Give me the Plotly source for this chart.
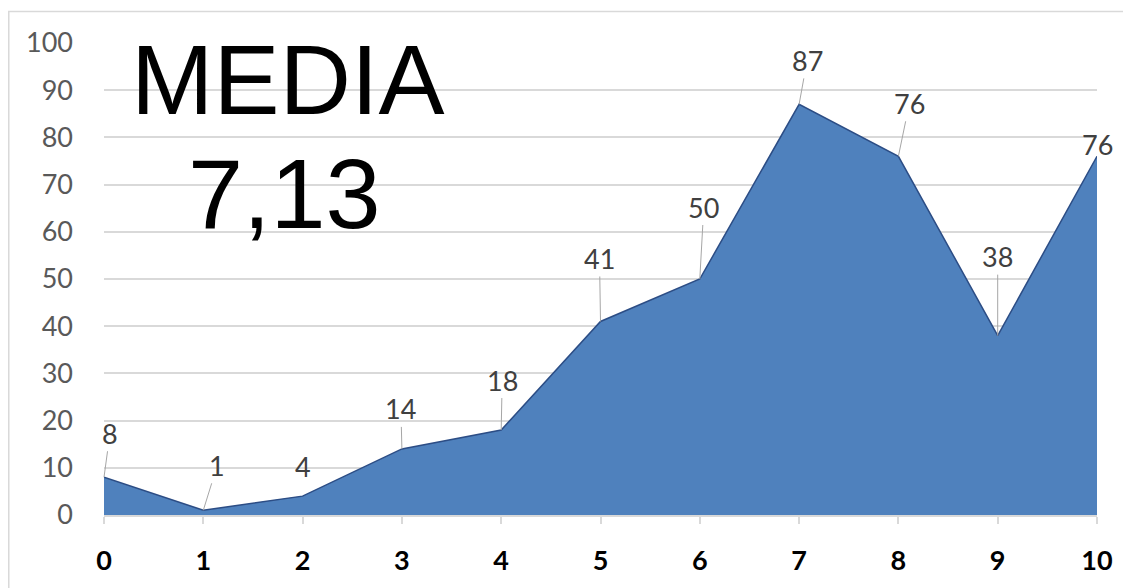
import plotly.graph_objects as go

# Datos del gráfico
x_vals = [0, 1, 2, 3, 4, 5, 6, 7, 8, 9, 10]
y_vals = [8, 1, 4, 14, 18, 41, 50, 87, 76, 38, 76]
media_titulo = "MEDIA"
media_valor = "7,13"

# Desplazamiento de las etiquetas (px) y si llevan línea guía
LABEL_OFFSETS = [(6, -44), (14, -45), (0, -30), (-1, -40), (1, -50), (-1, -63),
                 (4, -72), (8, -44), (11, -53), (0, -79), (0, -12)]
LABEL_LEADER = [True, True, False, True, True, True, True, True, True, True, False]

GRID = "#d9d9d9"
FONT_LBL = "Lato, 'Open Sans', sans-serif"

fig = go.Figure()
fig.add_trace(go.Scatter(
    x=x_vals, y=y_vals, mode="lines", fill="tozeroy",
    fillcolor="#4f81bd", line=dict(color="#2c4d85", width=1.5),
    hoverinfo="skip", showlegend=False,
))

annotations = []
for xv, yv, (ax, ay), lead in zip(x_vals, y_vals, LABEL_OFFSETS, LABEL_LEADER):
    if lead:
        annotations.append(dict(
            x=xv, y=yv, text=str(yv), showarrow=True, arrowhead=0,
            arrowwidth=1, arrowcolor="#a6a6a6", ax=ax, ay=ay, standoff=0,
            font=dict(family=FONT_LBL, size=27, color="#404040"),
        ))
    else:
        annotations.append(dict(
            x=xv, y=yv, text=str(yv), showarrow=False, xshift=ax, yshift=-ay,
            font=dict(family=FONT_LBL, size=27, color="#404040"),
        ))

annotations.append(dict(
    xref="paper", yref="paper", x=0.1858, y=0.922, xanchor="center", yanchor="middle",
    text=media_titulo, showarrow=False,
    font=dict(family="'Liberation Sans', Arial, sans-serif", size=99, color="#000000"),
))
annotations.append(dict(
    xref="paper", yref="paper", x=0.1818, y=0.681, xanchor="center", yanchor="middle",
    text=media_valor, showarrow=False,
    font=dict(family="'Liberation Sans', Arial, sans-serif", size=99, color="#000000"),
))

# la página tiene 8px de margen en el body: se compensa en los márgenes
fig.update_layout(
    width=1123, height=580,
    paper_bgcolor="white", plot_bgcolor="white",
    margin=dict(l=96, r=34, t=35, b=71),
    annotations=annotations,
    shapes=[dict(type="rect", xref="paper", yref="paper",
                 x0=-0.0959, x1=1.2, y0=-0.4, y1=1.0665,
                 line=dict(color=GRID, width=1.5), layer="below")],
    xaxis=dict(
        range=[0, 10], tickmode="array", tickvals=x_vals,
        showgrid=False, zeroline=False,
        showline=True, linecolor=GRID, linewidth=1.5,
        ticks="outside", ticklen=7, tickcolor=GRID, tickwidth=1.5,
        tickfont=dict(family=FONT_LBL, size=27, color="#000000", weight="bold"),
        ticklabelstandoff=14,
    ),
    yaxis=dict(
        range=[0, 100], dtick=10, showgrid=True, gridcolor=GRID, gridwidth=1.5,
        zeroline=False, showline=False, ticks="",
        tickfont=dict(family=FONT_LBL, size=27, color="#595959"),
        ticklabelstandoff=30,
    ),
)

fig.write_html("out.html")
